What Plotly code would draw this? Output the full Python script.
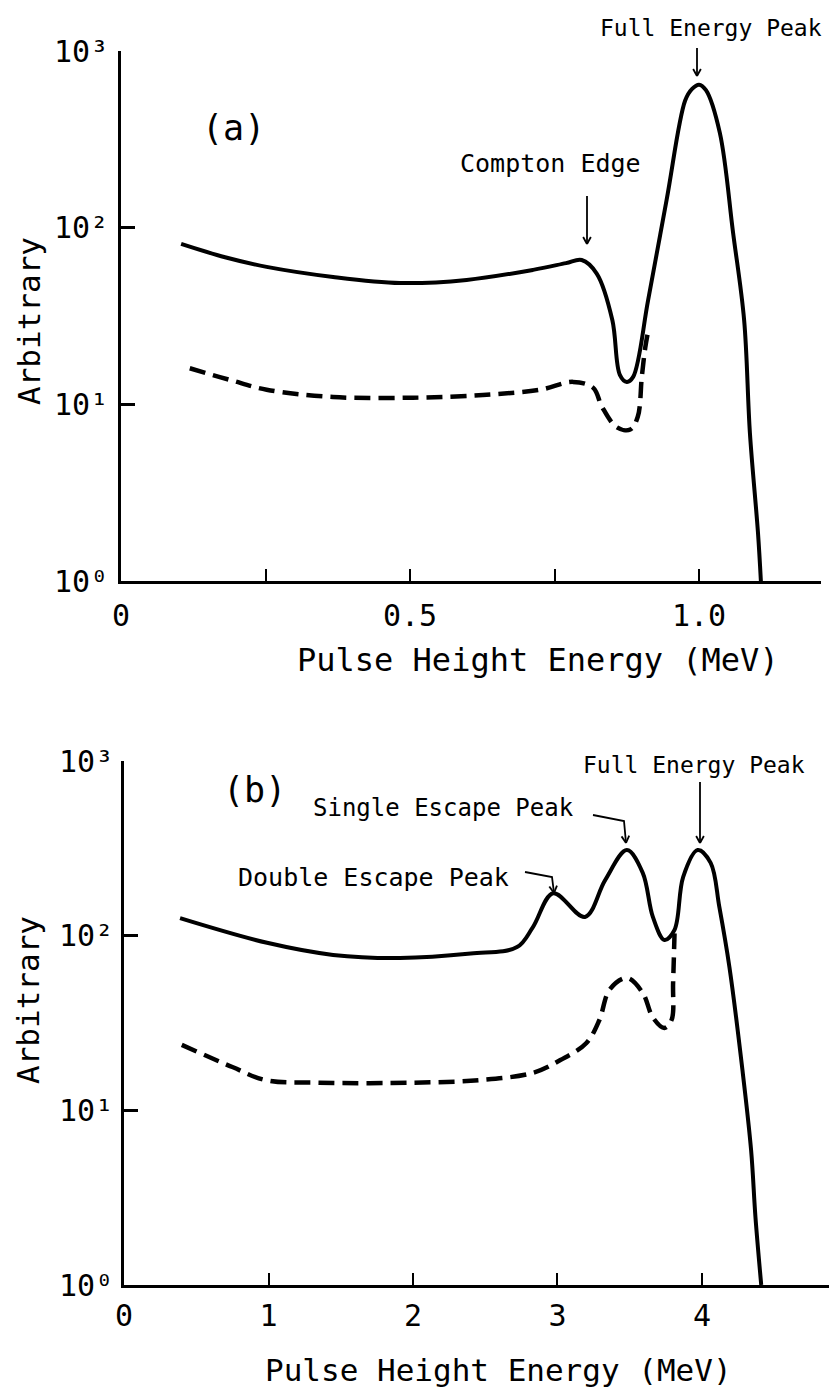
import plotly.graph_objects as go

W, H = 832, 1388
FONT = "DejaVu Sans Mono"

# ---- panel (a): 1 MeV gamma line ----
a_solid_x = [0.104, 0.18, 0.252, 0.367, 0.483, 0.598, 0.713, 0.77, 0.797, 0.823,
             0.85, 0.863, 0.875, 0.886, 0.912, 0.944, 0.976, 0.988, 1.0, 1.012,
             1.036, 1.059, 1.078, 1.088, 1.102, 1.107]
a_solid_y = [81, 68, 60, 52.6, 48.6, 50.6, 57.7, 63, 65.6, 55,
             30, 14.7, 13.4, 14.3, 39, 144, 524, 610, 645, 600,
             344, 93, 30, 6.9, 1.87, 1.0]

a_dash_x = [0.119, 0.19, 0.252, 0.367, 0.505, 0.626, 0.725, 0.782, 0.817, 0.832,
            0.858, 0.881, 0.894, 0.901, 0.907, 0.912]
a_dash_y = [16, 13.7, 12.1, 11, 10.9, 11.3, 12.1, 13.4, 12.4, 9.7,
            7.4, 7.2, 8.5, 14.3, 21, 26]

# ---- panel (b): 4 MeV gamma line ----
b_solid_x = [0.388, 0.99, 1.447, 1.91, 2.4, 2.72, 2.83, 2.97, 3.19, 3.33,
             3.48, 3.59, 3.66, 3.74, 3.81, 3.87, 3.97, 4.06, 4.12, 4.19,
             4.28, 4.34, 4.37, 4.41]
b_solid_y = [126, 91, 77.6, 74.5, 79, 86, 112, 175, 128, 208,
             309, 229, 128, 94.5, 108, 217, 309, 261, 146, 66,
             17, 5.9, 2.45, 1.0]

b_dash_x = [0.40, 0.75, 0.98, 1.35, 2.01, 2.46, 2.83, 3.02, 3.20, 3.29,
            3.36, 3.48, 3.59, 3.66, 3.74, 3.79, 3.80, 3.81]
b_dash_y = [23.7, 17.7, 14.9, 14.4, 14.4, 14.9, 16.4, 19.4, 24.3, 32.9,
            49, 57.3, 47, 34, 29.6, 33, 53.6, 103]

y_tickvals = [1, 10, 100, 1000]
y_ticktext = ["10⁰", "10¹", "10²", "10³"]
a_x_tickvals = [0, 0.5, 1.0]
a_x_ticktext = ["0", "0.5", "1.0"]
b_x_tickvals = [0, 1, 2, 3, 4]
b_x_ticktext = ["0", "1", "2", "3", "4"]

x_title = "Pulse Height Energy (MeV)"
y_title = "Arbitrary"


def px(x):
    return x / W


def py(y):
    return 1 - y / H


fig = go.Figure()

solid = dict(color="black", width=4)
dashed = dict(color="black", width=4.5, dash="16px,8px")

fig.add_trace(go.Scatter(x=a_solid_x, y=a_solid_y, mode="lines", line=solid,
                         line_shape="spline", xaxis="x", yaxis="y"))
fig.add_trace(go.Scatter(x=a_dash_x, y=a_dash_y, mode="lines", line=dashed,
                         line_shape="spline", xaxis="x", yaxis="y"))
fig.add_trace(go.Scatter(x=b_solid_x, y=b_solid_y, mode="lines", line=solid,
                         line_shape="spline", xaxis="x2", yaxis="y2"))
fig.add_trace(go.Scatter(x=b_dash_x, y=b_dash_y, mode="lines", line=dashed,
                         line_shape="spline", xaxis="x2", yaxis="y2"))

xcommon = dict(showline=True, linecolor="black", linewidth=2.5, showgrid=False,
               zeroline=False, ticks="inside", ticklen=12, tickwidth=2,
               tickcolor="black", tickmode="array", automargin=False,
               tickfont=dict(family=FONT, size=30, color="black"))
ycommon = dict(type="log", range=[0, 3], showline=True, linecolor="black",
               linewidth=2.5, showgrid=False, zeroline=False, ticks="inside",
               ticklen=14, tickwidth=3, tickcolor="black", tickmode="array",
               tickvals=y_tickvals, ticktext=y_ticktext, automargin=False,
               tickfont=dict(family=FONT, size=30, color="black"))

fig.update_layout(
    width=W, height=H,
    margin=dict(l=0, r=0, t=0, b=0, autoexpand=False),
    paper_bgcolor="white", plot_bgcolor="white",
    showlegend=False,
    font=dict(family=FONT, color="black"),
    xaxis=dict(xcommon, domain=[px(121), px(821)], range=[0, 1.211],
               anchor="y", tickvals=a_x_tickvals, ticktext=a_x_ticktext,
               ticklabelstandoff=6,
               minor=dict(tickmode="array", tickvals=[0.25, 0.75],
                          ticks="inside", ticklen=12, tickwidth=2,
                          tickcolor="black", showgrid=False)),
    yaxis=dict(ycommon, domain=[py(581), py(51)], anchor="x",
               ticklabelstandoff=4),
    xaxis2=dict(xcommon, domain=[px(124), px(829)], range=[0, 4.879],
                anchor="y2", tickvals=b_x_tickvals, ticktext=b_x_ticktext,
                ticklabelstandoff=2),
    yaxis2=dict(ycommon, domain=[py(1285), py(761)], anchor="x2",
                ticklabelstandoff=2),
)

ann = []
shapes = []


def text(x, y, s, size, angle=0):
    ann.append(dict(x=px(x), y=py(y), xref="paper", yref="paper", text=s,
                    showarrow=False, xanchor="center", yanchor="middle",
                    textangle=angle,
                    font=dict(family=FONT, size=size, color="black")))


def leader(points, head=7):
    """Polyline ending in an open V arrowhead at the last point."""
    path = "M " + " L ".join(f"{px(x)},{py(y)}" for x, y in points)
    shapes.append(dict(type="path", xref="paper", yref="paper", path=path,
                       line=dict(color="black", width=1.8)))
    (x0, y0), (x1, y1) = points[-2], points[-1]
    dx, dy = x1 - x0, y1 - y0
    n = (dx * dx + dy * dy) ** 0.5
    ux, uy = dx / n, dy / n
    # two wings of the arrowhead
    for s in (1, -1):
        wx = x1 - head * ux + s * head * 0.55 * (-uy)
        wy = y1 - head * uy + s * head * 0.55 * ux
        shapes.append(dict(type="path", xref="paper", yref="paper",
                           path=f"M {px(wx)},{py(wy)} L {px(x1)},{py(y1)}",
                           line=dict(color="black", width=1.8)))


# axis titles
text(538, 660, x_title, 32)
text(498, 1370, x_title, 31)
text(29, 321, y_title, 31, -90)
text(28, 1000, y_title, 31, -90)

# panel (a) labels
text(233, 128, "(a)", 35)
text(711, 28, "Full Energy Peak", 23)
leader([(697, 48), (697, 76)])
text(550, 164, "Compton Edge", 25)
leader([(587, 196), (587, 244)])

# panel (b) labels
text(254, 790, "(b)", 35)
text(694, 765, "Full Energy Peak", 23)
leader([(700, 782), (700, 843)])
text(443, 808, "Single Escape Peak", 24)
leader([(593, 815), (624, 821), (626, 843)])
text(373, 877, "Double Escape Peak", 25)
leader([(525, 872), (552, 877), (554, 893)])

fig.update_layout(annotations=ann, shapes=shapes)

fig.write_html("out.html")
